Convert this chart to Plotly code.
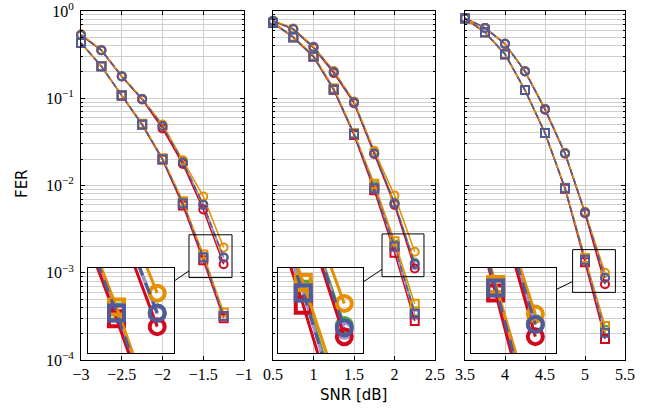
import plotly.graph_objects as go

# ---------------- data ----------------
snr_p1 = [-3.0, -2.75, -2.5, -2.25, -2.0, -1.75, -1.5, -1.25]
snr_p2 = [0.5, 0.75, 1.0, 1.25, 1.5, 1.75, 2.0, 2.25]
snr_p3 = [3.5, 3.75, 4.0, 4.25, 4.5, 4.75, 5.0, 5.25]

# panel 1, circle curves
p1_circ_orange = [0.54, 0.36, 0.18, 0.099, 0.050, 0.0195, 0.0075, 0.00195]
p1_circ_green = [0.53, 0.356, 0.179, 0.098, 0.048, 0.0185, 0.0061, 0.00150]
p1_circ_lav = [0.53, 0.355, 0.178, 0.098, 0.047, 0.0183, 0.0060, 0.00148]
p1_circ_blue = [0.53, 0.356, 0.179, 0.098, 0.048, 0.0184, 0.0060, 0.00150]
p1_circ_red = [0.53, 0.355, 0.178, 0.097, 0.045, 0.0176, 0.0053, 0.00125]
# panel 1, square curves
p1_sq_orange = [0.43, 0.234, 0.108, 0.051, 0.0205, 0.0066, 0.00162, 0.00035]
p1_sq_green = [0.43, 0.232, 0.108, 0.050, 0.0200, 0.0063, 0.00152, 0.00032]
p1_sq_lav = [0.43, 0.232, 0.108, 0.050, 0.0200, 0.0062, 0.00150, 0.00032]
p1_sq_blue = [0.43, 0.232, 0.108, 0.050, 0.0200, 0.0062, 0.00150, 0.00032]
p1_sq_red = [0.43, 0.232, 0.107, 0.050, 0.0198, 0.0059, 0.00139, 0.00030]

# panel 2
p2_circ_orange = [0.78, 0.63, 0.39, 0.205, 0.092, 0.0250, 0.0077, 0.00174]
p2_circ_green = [0.77, 0.62, 0.386, 0.200, 0.090, 0.0235, 0.0064, 0.00130]
p2_circ_lav = [0.77, 0.62, 0.386, 0.200, 0.090, 0.0233, 0.0062, 0.00122]
p2_circ_blue = [0.77, 0.62, 0.386, 0.200, 0.090, 0.0233, 0.0062, 0.00126]
p2_circ_red = [0.77, 0.62, 0.380, 0.195, 0.088, 0.0230, 0.0060, 0.00112]
p2_sq_orange = [0.74, 0.51, 0.31, 0.130, 0.040, 0.0105, 0.0023, 0.00044]
p2_sq_green = [0.73, 0.50, 0.30, 0.126, 0.039, 0.0098, 0.0021, 0.00036]
p2_sq_lav = [0.73, 0.50, 0.30, 0.126, 0.039, 0.0093, 0.0020, 0.00033]
p2_sq_blue = [0.73, 0.50, 0.30, 0.126, 0.039, 0.0093, 0.0020, 0.00034]
p2_sq_red = [0.73, 0.50, 0.30, 0.125, 0.038, 0.0088, 0.0017, 0.00028]

# panel 3
p3_circ_orange = [0.83, 0.64, 0.42, 0.205, 0.076, 0.0236, 0.0050, 0.00100]
p3_circ_green = [0.83, 0.64, 0.42, 0.204, 0.075, 0.0234, 0.0049, 0.00088]
p3_circ_lav = [0.83, 0.64, 0.42, 0.204, 0.075, 0.0234, 0.0049, 0.00087]
p3_circ_blue = [0.83, 0.64, 0.42, 0.204, 0.075, 0.0234, 0.0049, 0.00087]
p3_circ_red = [0.83, 0.64, 0.42, 0.203, 0.074, 0.0232, 0.0048, 0.00074]
p3_sq_orange = [0.82, 0.57, 0.32, 0.124, 0.040, 0.0094, 0.00148, 0.000245]
p3_sq_green = [0.82, 0.57, 0.32, 0.124, 0.040, 0.0093, 0.00143, 0.000220]
p3_sq_lav = [0.82, 0.57, 0.32, 0.124, 0.040, 0.0093, 0.00141, 0.000205]
p3_sq_blue = [0.82, 0.57, 0.32, 0.124, 0.040, 0.0093, 0.00141, 0.000205]
p3_sq_red = [0.82, 0.57, 0.32, 0.124, 0.040, 0.0092, 0.00132, 0.000174]

x_tickvals = [[-3, -2.5, -2, -1.5, -1], [0.5, 1, 1.5, 2, 2.5], [3.5, 4, 4.5, 5, 5.5]]
x_ticktext = [["−3", "−2.5", "−2", "−1.5", "−1"], ["0.5", "1", "1.5", "2", "2.5"],
              ["3.5", "4", "4.5", "5", "5.5"]]
y_tickvals = [1e-4, 1e-3, 1e-2, 1e-1, 1]
y_ticktext = ["10<sup>−4</sup>", "10<sup>−3</sup>", "10<sup>−2</sup>", "10<sup>−1</sup>", "10<sup>0</sup>"]

# ---------------- styling ----------------
C_OR = "#E68F00"
C_GR = "#4CA93A"
C_LAV = "#A591D8"
C_BL = "#4F5A98"
C_RD = "#D3081C"

SERIF = "Liberation Serif, Times New Roman, serif"
SANS = "DejaVu Sans, sans-serif"

W, H = 662, 413
PLOT_L, PLOT_R, PLOT_T, PLOT_B = 81, 625, 11, 360   # window pixels
PW, PH = PLOT_R - PLOT_L, PLOT_B - PLOT_T
L, T = PLOT_L, PLOT_T
R, B = W - L - PW, H - T - PH


def px2dx(px):
    return (px - PLOT_L) / PW


def px2dy(py):
    return (PLOT_B - py) / PH


panel_px = [(81, 244), (273, 435), (465, 625)]
x_ranges = [[-3, -1], [0.5, 2.5], [3.5, 5.5]]
y_range = [-4, 0]

# insets: pixel box, and data window they magnify
inset_px = [(88, 174), (278, 363), (471, 556)]
inset_py = (268, 353)
inset_xr = [[-1.675, -1.147], [1.846, 2.364], [4.845, 5.38]]
inset_yr = [[-3.055, -2.565], [-3.045, -2.555], [-3.225, -2.735]]

panels = [
    (snr_p1, [(p1_circ_green, p1_sq_green, C_GR, "solid"),
              (p1_circ_lav, p1_sq_lav, C_LAV, "solid"),
              (p1_circ_red, p1_sq_red, C_RD, "solid"),
              (p1_circ_orange, p1_sq_orange, C_OR, "solid"),
              (p1_circ_blue, p1_sq_blue, C_BL, "dash")]),
    (snr_p2, [(p2_circ_green, p2_sq_green, C_GR, "solid"),
              (p2_circ_lav, p2_sq_lav, C_LAV, "solid"),
              (p2_circ_red, p2_sq_red, C_RD, "solid"),
              (p2_circ_orange, p2_sq_orange, C_OR, "solid"),
              (p2_circ_blue, p2_sq_blue, C_BL, "dash")]),
    (snr_p3, [(p3_circ_green, p3_sq_green, C_GR, "solid"),
              (p3_circ_lav, p3_sq_lav, C_LAV, "solid"),
              (p3_circ_red, p3_sq_red, C_RD, "solid"),
              (p3_circ_orange, p3_sq_orange, C_OR, "solid"),
              (p3_circ_blue, p3_sq_blue, C_BL, "dash")]),
]


def ax_id(n):
    return "" if n == 1 else str(n)


fig = go.Figure()

for i, (snr, series) in enumerate(panels):
    main = i + 1
    ins = i + 4
    for circ, sq, col, dash in series:
        for vals, sym in ((circ, "circle-open"), (sq, "square-open")):
            fig.add_trace(go.Scatter(
                x=snr, y=vals, mode="lines+markers",
                xaxis="x" + ax_id(main), yaxis="y" + ax_id(main),
                line=dict(color=col, width=1.5, dash="6px,4px" if dash == "dash" else "solid"),
                marker=dict(symbol=sym, size=8, color=col, line=dict(width=2, color=col)),
                cliponaxis=False, showlegend=False, hoverinfo="skip"))
            fig.add_trace(go.Scatter(
                x=snr, y=vals, mode="lines+markers",
                xaxis="x" + ax_id(ins), yaxis="y" + ax_id(ins),
                line=dict(color=col, width=3, dash="12px,8px" if dash == "dash" else "solid"),
                marker=dict(symbol=sym, size=15, color=col, line=dict(width=4, color=col)),
                cliponaxis=True, showlegend=False, hoverinfo="skip"))

grid_c = "#cfcfcf"
minor_vals = [k * 10 ** n for n in range(-4, 0) for k in range(2, 10)]
layout = dict(
    width=W, height=H,
    margin=dict(l=L, r=R, t=T, b=B, autoexpand=False),
    paper_bgcolor="white", plot_bgcolor="rgba(0,0,0,0)",
    font=dict(family=SERIF, size=16, color="black"),
    showlegend=False, hovermode=False,
)

shapes = []
for i in range(3):
    main = i + 1
    ins = i + 4
    d0, d1 = px2dx(panel_px[i][0]), px2dx(panel_px[i][1])
    layout["xaxis" + ax_id(main)] = dict(
        domain=[d0, d1], range=x_ranges[i], anchor="y" + ax_id(main),
        tickvals=x_tickvals[i], ticktext=x_ticktext[i],
        ticks="inside", ticklen=4, tickcolor="black",
        showline=True, linecolor="black", linewidth=1, mirror="ticks",
        showgrid=True, gridcolor=grid_c, gridwidth=1, zeroline=False,
        tickfont=dict(family=SERIF, size=16), ticklabeloverflow="allow",
    )
    layout["yaxis" + ax_id(main)] = dict(
        domain=[0, 1], type="log", range=y_range, anchor="x" + ax_id(main),
        tickvals=y_tickvals, ticktext=y_ticktext,
        showticklabels=(i == 0),
        ticks="inside", ticklen=4, tickcolor="black",
        showline=True, linecolor="black", linewidth=1, mirror="ticks",
        showgrid=True, gridcolor=grid_c, gridwidth=1, zeroline=False,
        minor=dict(tickvals=minor_vals, ticks="inside", ticklen=2, tickcolor="black",
                   showgrid=True, gridcolor=grid_c, gridwidth=1),
        tickfont=dict(family=SERIF, size=16),
        ticklabelstandoff=3, ticklabeloverflow="allow",
    )
    ix0, ix1 = inset_px[i]
    layout["xaxis" + ax_id(ins)] = dict(
        domain=[px2dx(ix0), px2dx(ix1)], range=inset_xr[i], anchor="y" + ax_id(ins),
        showticklabels=False, ticks="", showgrid=False, zeroline=False,
        showline=True, linecolor="black", linewidth=1, mirror=True,
    )
    layout["yaxis" + ax_id(ins)] = dict(
        domain=[px2dy(inset_py[1]), px2dy(inset_py[0])], type="log", range=inset_yr[i],
        anchor="x" + ax_id(ins),
        showticklabels=False, ticks="", showgrid=False, zeroline=False,
        showline=True, linecolor="black", linewidth=1, mirror=True,
    )

    # magnified window rectangle, in paper coords from the main axis scale
    xr = x_ranges[i]

    def to_px_x(v, xr=xr, i=i):
        a, b = panel_px[i]
        return a + (v - xr[0]) / (xr[1] - xr[0]) * (b - a)

    def to_px_y(lv):
        return PLOT_B - (lv - y_range[0]) / (y_range[1] - y_range[0]) * PH

    bx0, bx1 = to_px_x(inset_xr[i][0]), to_px_x(inset_xr[i][1])
    by0, by1 = to_px_y(inset_yr[i][1]), to_px_y(inset_yr[i][0])  # top, bottom
    shapes.append(dict(type="rect", xref="paper", yref="paper",
                       x0=px2dx(bx0), x1=px2dx(bx1), y0=px2dy(by1), y1=px2dy(by0),
                       line=dict(color="black", width=1), fillcolor="rgba(0,0,0,0)", layer="above"))
    # connector between the box centres, clipped at both boxes
    cbx, cby = (bx0 + bx1) / 2, (by0 + by1) / 2
    cix, ciy = (ix0 + ix1) / 2, (inset_py[0] + inset_py[1]) / 2
    dxv, dyv = cbx - cix, cby - ciy

    def clip_t(hw, hh):
        tx = hw / abs(dxv) if dxv else 1e9
        ty = hh / abs(dyv) if dyv else 1e9
        return min(tx, ty)

    t_in = clip_t((ix1 - ix0) / 2, (inset_py[1] - inset_py[0]) / 2)
    t_bx = clip_t((bx1 - bx0) / 2, (by1 - by0) / 2)
    p0 = (cix + dxv * t_in, ciy + dyv * t_in)
    p1 = (cbx - dxv * t_bx, cby - dyv * t_bx)
    shapes.append(dict(type="line", xref="paper", yref="paper",
                       x0=px2dx(p0[0]), y0=px2dy(p0[1]), x1=px2dx(p1[0]), y1=px2dy(p1[1]),
                       line=dict(color="black", width=1), layer="above"))

layout["shapes"] = shapes
layout["annotations"] = [
    dict(text="SNR [dB]", xref="paper", yref="paper", x=px2dx(353), y=px2dy(395),
         xanchor="center", yanchor="middle", showarrow=False,
         font=dict(family=SANS, size=15)),
    dict(text="FER", xref="paper", yref="paper", x=px2dx(22), y=px2dy(184),
         xanchor="center", yanchor="middle", showarrow=False, textangle=-90,
         font=dict(family=SANS, size=15)),
]

fig.update_layout(**layout)
# remove the default 8px page margin so the figure fills the 662x413 window exactly
fig.write_html("out.html", config={"displayModeBar": False, "staticPlot": True},
               post_script="document.body.style.margin='0px';")
